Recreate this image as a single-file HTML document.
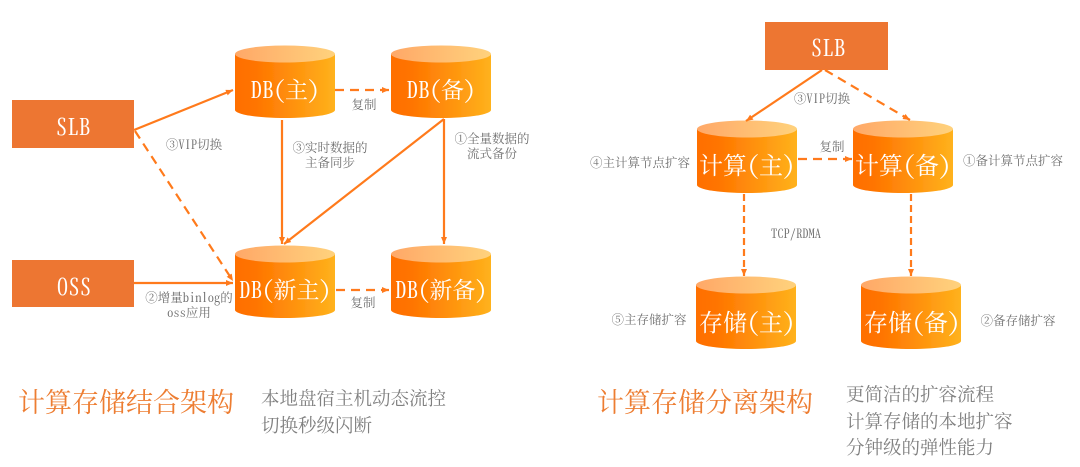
<!DOCTYPE html>
<html><head><meta charset="utf-8">
<style>
html,body{margin:0;padding:0;background:#fff;width:1080px;height:467px;overflow:hidden}
svg{display:block}
text{font-family:"Noto Serif CJK SC","Liberation Serif",serif;font-feature-settings:"hwid" 1}
.n{fill:#fff;text-anchor:middle;font-size:23px}
.m{font-size:24px}
.s{fill:#707070;font-size:12.5px;text-anchor:middle}
.t{fill:#ed7d31;font-size:27px}
.d{fill:#808080;font-size:18.5px}
.l{stroke:#ff7a1a;stroke-width:2.2;fill:none}
.da{stroke-dasharray:9 6}
.dv{stroke-dasharray:7 4}
</style></head>
<body>
<svg width="1080" height="467" viewBox="0 0 1080 467" xmlns="http://www.w3.org/2000/svg">
<defs>
<linearGradient id="b"><stop offset="0" stop-color="#ff6f00"/><stop offset=".2" stop-color="#ff7400"/><stop offset="1" stop-color="#ffb21c"/></linearGradient>
<linearGradient id="c"><stop offset="0" stop-color="#ffa868"/><stop offset="1" stop-color="#ffd27c"/></linearGradient>
<marker id="a" markerWidth="9" markerHeight="9" refX="7" refY="4" orient="auto" markerUnits="userSpaceOnUse"><path d="M0 1L7 4L0 7z" fill="#ff7a1a"/></marker>
<g id="cy">
<path d="M0 8V64A50 8 0 0 0 100 64V8z" fill="url(#b)"/>
<ellipse cx="50" cy="8" rx="50" ry="8.5" fill="url(#c)"/>
</g>
<filter id="bl" x="0" y="0" width="100%" height="100%"><feGaussianBlur stdDeviation="0.35"/></filter>
</defs>
<g filter="url(#bl)">
<rect x="12" y="100" width="122" height="48" fill="#ed7631"/>
<rect x="12" y="260" width="122" height="47" fill="#ed7631"/>
<rect x="765" y="22" width="123" height="48" fill="#ed7631"/>
<text class="n" x="73" y="135">SLB</text>
<text class="n" x="74" y="295">OSS</text>
<text class="n" x="828" y="56">SLB</text>

<use href="#cy" x="235" y="46"/>
<use href="#cy" x="391" y="46"/>
<use href="#cy" x="235" y="246"/>
<use href="#cy" x="391" y="246"/>
<use href="#cy" x="697" y="121"/>
<use href="#cy" x="853" y="121"/>
<use href="#cy" x="696" y="277"/>
<use href="#cy" x="861" y="277"/>

<text class="n" x="285" y="98">DB(主)</text>
<text class="n" x="441" y="98">DB(备)</text>
<text class="n" x="285" y="298">DB(新主)</text>
<text class="n" x="441" y="298">DB(新备)</text>
<text class="n m" x="747" y="174">计算(主)</text>
<text class="n m" x="903" y="174">计算(备)</text>
<text class="n m" x="747" y="331">存储(主)</text>
<text class="n m" x="912" y="331">存储(备)</text>

<path class="l" d="M134 130L233 90" marker-end="url(#a)"/>
<path class="l da" d="M135 131L233 281" marker-end="url(#a)"/>
<path class="l" d="M134 283H233" marker-end="url(#a)"/>
<path class="l" d="M282 120V244" marker-end="url(#a)"/>
<path class="l" d="M444 119L284 244" marker-end="url(#a)"/>
<path class="l" d="M444 119V244" marker-end="url(#a)"/>
<path class="l da" d="M335 90H389" marker-end="url(#a)"/>
<path class="l da" d="M336 290H389" marker-end="url(#a)"/>
<path class="l" d="M822 70L746 121" marker-end="url(#a)"/>
<path class="l da" d="M825 70L910 120" marker-end="url(#a)"/>
<path class="l da" d="M798 159H852" marker-end="url(#a)"/>
<path class="l dv" d="M744 194V276" marker-end="url(#a)"/>
<path class="l dv" d="M911 194V276" marker-end="url(#a)"/>

<text class="s" x="364" y="109">复制</text>
<text class="s" x="363" y="307">复制</text>
<text class="s" x="194" y="149">③VIP切换</text>
<text class="s" x="330" y="152">③实时数据的</text>
<text class="s" x="330" y="167">主备同步</text>
<text class="s" x="492" y="143">①全量数据的</text>
<text class="s" x="492" y="158">流式备份</text>
<text class="s" x="189" y="302">②增量binlog的</text>
<text class="s" x="189" y="317">oss应用</text>
<text class="s" x="822" y="103">③VIP切换</text>
<text class="s" x="832" y="151">复制</text>
<text class="s" x="640" y="167">④主计算节点扩容</text>
<text class="s" x="1013" y="165">①备计算节点扩容</text>
<text class="s" x="796" y="238">TCP/RDMA</text>
<text class="s" x="649" y="324">⑤主存储扩容</text>
<text class="s" x="1018" y="325">②备存储扩容</text>

<text class="t" x="18" y="412">计算存储结合架构</text>
<text class="t" x="597" y="412">计算存储分离架构</text>
<text class="d" x="261" y="405">本地盘宿主机动态流控</text>
<text class="d" x="261" y="432">切换秒级闪断</text>
<text class="d" x="846" y="401">更简洁的扩容流程</text>
<text class="d" x="846" y="428">计算存储的本地扩容</text>
<text class="d" x="846" y="454">分钟级的弹性能力</text>
</g>
</svg>
</body></html>
